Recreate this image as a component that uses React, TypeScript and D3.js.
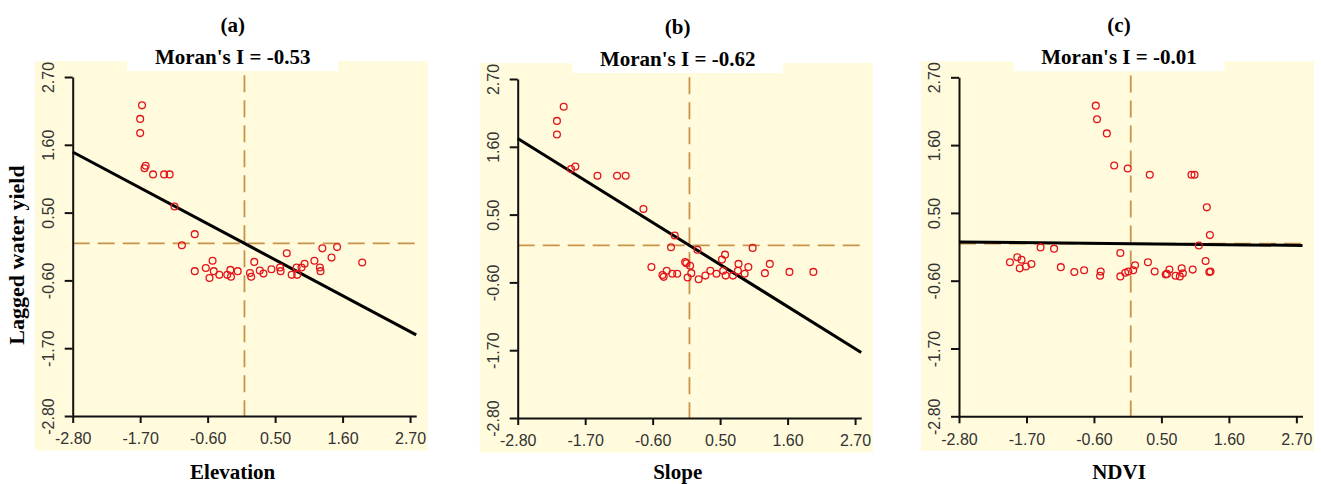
import React, { useEffect, useRef } from 'react';
import * as d3 from 'd3';

// panel captions, x-axis names and Moran's I of each panel
const panelLetters = ['(a)', '(b)', '(c)'];
const xNames = ['Elevation', 'Slope', 'NDVI'];
const moransI = [-0.53, -0.62, -0.01];
const tickValues = [-2.8, -1.7, -0.6, 0.5, 1.6, 2.7];
const yName = 'Lagged water yield';

// (a) elevation vs lagged water yield
const elevationX = [-1.67, -1.7, -1.7, -1.61, -1.63, -1.49, -1.31, -1.22, -1.14, -0.81, -1.02, -0.81, -0.63, -0.52, -0.57, -0.5, -0.41, -0.28, -0.23, -0.22, -0.11, 0.09, 0.11, 0.16, 0.25, 0.31, 0.44, 0.59, 0.58, 0.69, 0.77, 0.85, 0.86, 0.93, 0.98, 1.14, 1.23, 1.24, 1.27, 1.42, 1.51, 1.92];
const elevationLag = [2.24, 2.02, 1.79, 1.26, 1.22, 1.12, 1.12, 1.12, 0.6, 0.15, -0.03, -0.45, -0.4, -0.28, -0.56, -0.45, -0.51, -0.51, -0.43, -0.54, -0.45, -0.48, -0.54, -0.3, -0.44, -0.49, -0.42, -0.45, -0.39, -0.16, -0.51, -0.39, -0.51, -0.39, -0.33, -0.28, -0.39, -0.45, -0.08, -0.23, -0.06, -0.31];

// (b) slope vs lagged water yield
const slopeX = [-2.05, -2.16, -2.16, -1.86, -1.93, -1.5, -1.18, -1.04, -0.75, -0.24, -0.3, 0.13, 1.03, -0.62, -0.42, -0.44, -0.37, -0.28, -0.2, -0.07, -0.05, 0.01, -0.03, 0.03, 0.15, 0.26, 0.34, 0.44, 0.53, 0.58, 0.55, 0.59, 0.71, 0.79, 0.8, 0.9, 0.96, 1.23, 1.31, 1.63, 2.02];
const slopeLag = [2.25, 2.02, 1.8, 1.28, 1.24, 1.13, 1.13, 1.13, 0.59, 0.16, -0.03, -0.07, -0.04, -0.35, -0.51, -0.48, -0.41, -0.46, -0.46, -0.27, -0.29, -0.33, -0.52, -0.45, -0.55, -0.49, -0.41, -0.46, -0.23, -0.15, -0.41, -0.49, -0.49, -0.41, -0.3, -0.46, -0.35, -0.45, -0.3, -0.43, -0.43];

// (c) NDVI vs lagged water yield
const ndviX = [-0.57, -0.55, -0.39, -0.27, -0.05, 0.31, 0.99, 1.04, 1.24, 1.29, 1.11, 1.22, 1.28, 1.3, 1.01, 0.83, 0.85, 0.8, 0.73, 0.63, 0.59, 0.57, 0.39, 0.28, 0.07, 0.04, -0.04, -0.09, -0.17, -0.17, -0.49, -0.5, -0.76, -0.92, -1.14, -1.25, -1.47, -1.62, -1.71, -1.78, -1.81, -1.85, -1.97];
const ndviLag = [2.24, 2.02, 1.79, 1.27, 1.22, 1.12, 1.12, 1.12, 0.59, 0.14, -0.03, -0.28, -0.46, -0.45, -0.42, -0.4, -0.48, -0.53, -0.52, -0.42, -0.49, -0.5, -0.45, -0.3, -0.35, -0.43, -0.45, -0.47, -0.53, -0.15, -0.45, -0.52, -0.43, -0.46, -0.38, -0.08, -0.06, -0.33, -0.37, -0.26, -0.4, -0.22, -0.3];

const panelX = [elevationX, slopeX, ndviX];
const panelY = [elevationLag, slopeLag, ndviLag];

// layout of the three plots (left edge and top edge of the axes)
const plotLefts = [72.7, 517.7, 959];
const plotTops = [77, 79, 77.3];
const plotW = 343.5;
const plotH = 339;

const serif = '"Liberation Serif", "Times New Roman", serif';
const sans = '"Liberation Sans", Arial, sans-serif';
const fmt = (d: number) => d.toFixed(2);

export default function App() {
  const ref = useRef<SVGSVGElement>(null);

  useEffect(() => {
    const svg = d3.select(ref.current);
    svg.selectAll('*').remove();

    panelLetters.forEach((letter, i) => {
      const left = plotLefts[i];
      const top = plotTops[i];
      const x = d3.scaleLinear().domain([-2.8, 2.8]).range([left, left + plotW]);
      const y = d3.scaleLinear().domain([-2.8, 2.7]).range([top + plotH, top]);
      const cx = left + 160;
      const g = svg.append('g');

      g.append('rect')
        .attr('x', left - 38).attr('y', top - 16)
        .attr('width', 393).attr('height', 389.5)
        .attr('fill', '#fffbdc');
      g.append('rect')
        .attr('x', cx - 105.5).attr('y', top - 20)
        .attr('width', 211).attr('height', 14)
        .attr('fill', '#ffffff');

      g.append('text').text(letter)
        .attr('x', cx).attr('y', top - 45.5)
        .attr('text-anchor', 'middle')
        .attr('font-family', serif).attr('font-weight', 'bold').attr('font-size', 21);
      g.append('text').text(`Moran's I = ${fmt(moransI[i])}`)
        .attr('x', cx).attr('y', top - 13.5)
        .attr('text-anchor', 'middle')
        .attr('font-family', serif).attr('font-weight', 'bold').attr('font-size', 21);
      g.append('text').text(xNames[i])
        .attr('x', cx).attr('y', 479)
        .attr('text-anchor', 'middle')
        .attr('font-family', serif).attr('font-weight', 'bold').attr('font-size', 21);

      // mean lines
      const dashColor = '#c8934a';
      g.append('line')
        .attr('x1', x(0)).attr('x2', x(0))
        .attr('y1', y(2.73)).attr('y2', y(-2.8))
        .attr('stroke', dashColor).attr('stroke-width', 1.8).attr('stroke-dasharray', '17,8');
      g.append('line')
        .attr('x1', x(-2.8)).attr('x2', x(2.8))
        .attr('y1', y(0)).attr('y2', y(0))
        .attr('stroke', dashColor).attr('stroke-width', 1.8).attr('stroke-dasharray', '17,8');

      // axes
      const xAxis = g.append('g')
        .attr('transform', `translate(0,${y(-2.8)})`)
        .call(d3.axisBottom(x).tickValues(tickValues).tickFormat(d => fmt(+d)).tickSize(7).tickSizeOuter(0));
      xAxis.selectAll('text')
        .attr('y', 17)
        .attr('font-family', sans).attr('font-size', 16).attr('fill', '#333');

      const yAxis = g.append('g')
        .attr('transform', `translate(${left},0)`)
        .call(d3.axisLeft(y).tickValues(tickValues).tickFormat(d => fmt(+d)).tickSize(8).tickSizeOuter(0));
      yAxis.selectAll('text')
        .attr('x', 0).attr('dy', 0)
        .attr('text-anchor', 'middle')
        .attr('transform', 'translate(-19,0) rotate(-90)')
        .attr('font-family', sans).attr('font-size', 16).attr('fill', '#333');

      [xAxis, yAxis].forEach(a => {
        a.selectAll('path, line').attr('stroke', '#111').attr('stroke-width', 2);
      });

      // regression line, slope = Moran's I through the means
      const line = d3.line<number>().x(d => x(d)).y(d => y(moransI[i] * d));
      g.append('path')
        .attr('d', line([-2.8, 2.8]))
        .attr('fill', 'none').attr('stroke', '#000').attr('stroke-width', 3);

      g.selectAll('circle.pt')
        .data(panelX[i].map((v, k) => [v, panelY[i][k]]))
        .join('circle')
        .attr('class', 'pt')
        .attr('cx', d => x(d[0])).attr('cy', d => y(d[1]))
        .attr('r', 3.4)
        .attr('fill', 'none').attr('stroke', '#e3141c').attr('stroke-width', 1.3);
    });

    svg.append('text').text(yName)
      .attr('transform', 'translate(24,255) rotate(-90)')
      .attr('text-anchor', 'middle')
      .attr('font-family', serif).attr('font-weight', 'bold').attr('font-size', 22);
  }, []);

  return (
    <svg ref={ref} width={1321} height={484}
      style={{ position: 'absolute', left: 0, top: 0, background: '#fff' }} />
  );
}
